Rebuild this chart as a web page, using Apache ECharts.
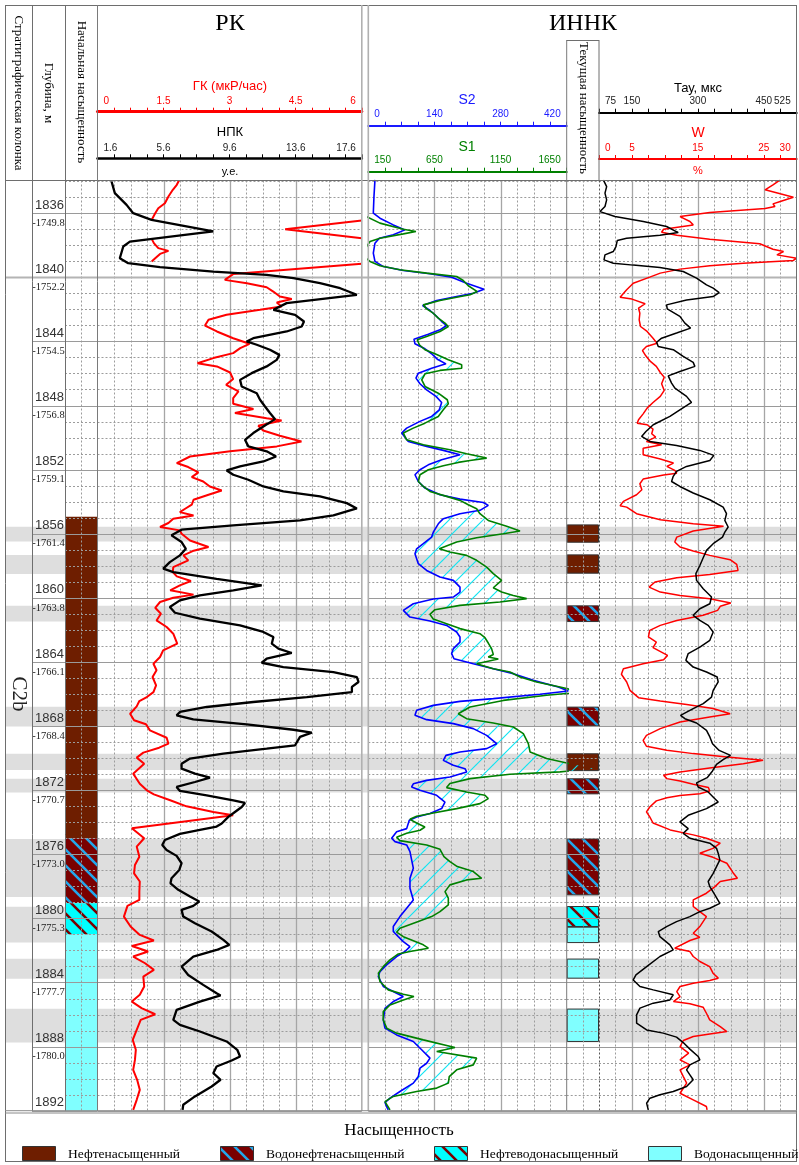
<!DOCTYPE html>
<html><head><meta charset="utf-8">
<script src="https://cdn.jsdelivr.net/npm/echarts@6/dist/echarts.min.js"></script>
<style>html,body{margin:0;padding:0;background:#fff}#c{width:799px;height:1165px}</style>
</head><body><div id="c"></div>
<script>
// ================= DATA =================
const depthRange = [1833.96, 1892];
const depthLabels = [1836,1840,1844,1848,1852,1856,1860,1864,1868,1872,1876,1880,1884,1888,1892];
const absDepthLabels = ['-1749.8','-1752.2','-1754.5','-1756.8','-1759.1','-1761.4','-1763.8','-1766.1','-1768.4','-1770.7','-1773.0','-1775.3','-1777.7','-1780.0'];
const stratUnits = [['C2b', 1840, 1892]];
const saturationTypes = ['Нефтенасыщенный','Водонефтенасыщенный','Нефтеводонасыщенный','Водонасыщенный'];
const initialSaturation = [[0,1854.94,1875.0],[1,1875.0,1879.05],[2,1879.05,1881.0],[3,1881.0,1892]];
const currentSaturation = [[0,1855.45,1856.53],[0,1857.32,1858.46],[1,1860.5,1861.48],[1,1866.82,1867.99],[0,1869.73,1870.78],[1,1871.29,1872.23],[1,1875.04,1878.53],[2,1879.26,1880.51],[3,1880.55,1881.51],[3,1882.54,1883.73],[3,1885.66,1887.68]];
const grayBands = [[1855.57,1856.49],[1857.32,1858.51],[1860.5,1861.48],[1866.8,1868.03],[1869.73,1870.74],[1871.29,1872.15],[1875.04,1878.66],[1879.28,1881.51],[1882.52,1883.77],[1885.64,1887.75]];

const gkScale = [0, 6, 1.5];      const gkTickLabels = ['0','1.5','3','4.5','6'];
const ngkScale = [1.6, 17.6, 4];  const ngkTickLabels = ['1.6','5.6','9.6','13.6','17.6'];
const s2Scale = [0, 420, 140];    const s2TickLabels = ['0','140','280','420'];
const s1Scale = [150, 1650, 500]; const s1TickLabels = ['150','650','1150','1650'];
const tauScale = [75, 525, 75];   const tauTickLabels = ['75','150','300','450','525'];
const wScale = [0, 30, 5];        const wTickLabels = ['0','5','15','25','30'];

// [depth, value]; null value = break in the curve
const gkLog = [[1833.96,1.85],[1834.23,1.8],[1834.54,1.71],[1834.96,1.61],[1835.38,1.53],[1835.69,1.38],[1836.0,1.31],[1836.31,1.25],[1836.42,1.23],[1836.44,null],
[1836.46,6.0],[1837.0,4.26],[1837.56,6.0],[1837.58,null],
[1837.6,1.23],[1837.87,1.28],[1838.18,1.38],[1838.35,1.61],[1838.54,1.42],[1838.81,1.31],[1839.01,1.23],[1839.1,null],
[1839.16,6.0],[1839.8,3.08],[1840.16,2.89],[1840.37,3.39],[1840.62,3.84],[1840.89,3.99],[1841.2,4.14],[1841.36,4.41],[1841.57,4.07],[1841.82,4.18],[1842.03,3.69],[1842.34,2.93],[1842.65,2.52],[1843.01,2.44],[1843.38,2.71],[1843.8,3.08],[1844.15,3.45],[1844.42,3.24],[1844.73,3.08],[1845.04,2.63],[1845.36,2.27],[1845.56,2.71],[1845.94,3.01],[1846.35,3.08],[1846.71,2.92],[1847.12,3.2],[1847.54,3.08],[1847.89,3.08],[1848.22,3.54],[1848.47,3.12],[1848.79,3.84],[1848.93,4.18],[1849.26,3.65],[1849.56,3.76],[1849.89,4.14],[1850.24,4.63],[1850.55,4.07],[1850.86,3.01],[1851.18,2.1],[1851.59,1.8],[1851.84,2.06],[1852.17,2.29],[1852.47,2.14],[1852.74,2.4],[1853.05,2.55],[1853.3,2.82],[1853.57,2.52],[1853.88,2.18],[1854.19,2.14],[1854.44,1.99],[1854.65,1.87],[1854.86,2.18],[1855.06,1.72],[1855.33,1.61],[1855.58,1.42],[1855.79,1.87],[1856.0,1.91],[1856.42,2.1],[1856.83,2.52],[1857.08,2.16],[1857.35,1.95],[1857.66,2.06],[1858.08,1.72],[1858.39,1.71],[1858.66,1.8],[1858.95,2.12],[1859.22,1.87],[1859.53,1.65],[1859.8,2.18],[1859.99,1.72],[1860.26,1.42],[1860.62,1.31],[1860.99,1.44],[1861.41,1.34],[1861.82,1.57],[1862.24,1.72],[1862.86,1.81],[1863.28,1.49],[1863.69,1.42],[1864.11,1.27],[1864.52,1.34],[1864.94,1.25],[1865.46,1.33],[1865.88,1.27],[1866.19,1.12],[1866.44,0.95],[1866.77,0.89],[1867.23,0.74],[1867.64,0.83],[1867.89,1.1],[1868.27,1.19],[1868.73,1.57],[1869.1,1.61],[1869.35,1.4],[1869.66,1.04],[1869.97,0.89],[1870.35,1.06],[1870.97,0.81],[1871.6,0.96],[1872.01,1.12],[1872.26,1.28],[1872.63,1.65],[1873.01,2.02],[1873.36,2.63],[1873.57,3.08],[1874.38,0.78],[1875.0,1.06],[1875.52,0.89],[1876.15,0.95],[1876.67,0.85],[1877.19,0.83],[1877.7,0.96],[1878.33,0.95],[1878.85,0.95],[1879.22,0.68],[1879.89,0.6],[1880.51,0.75],[1881.03,0.96],[1881.38,1.28],[1881.72,0.78],[1882.07,1.15],[1882.38,0.81],[1882.8,1.08],[1883.21,1.28],[1883.63,1.04],[1884.25,1.06],[1884.77,0.96],[1885.19,0.78],[1885.6,1.0],[1885.98,1.31],[1886.33,0.98],[1886.96,0.89],[1887.58,0.8],[1888.2,0.87],[1888.83,0.85],[1889.45,0.81],[1890.07,0.9],[1890.7,0.96],[1891.32,0.89],[1891.95,0.81]];

const ngkLog = [[1834.02,2.45],[1834.75,2.65],[1835.48,3.36],[1836.0,3.76],[1836.42,4.87],[1837.14,8.61],[1837.77,3.56],[1838.08,3.16],[1838.81,2.95],[1839.12,3.46],[1839.37,5.38],[1839.64,8.61],[1839.85,11.84],[1840.05,13.46],[1840.37,15.07],[1840.68,16.29],[1841.09,17.3],[1841.61,13.05],[1842.03,12.25],[1842.34,13.56],[1842.76,14.1],[1843.07,13.96],[1843.38,13.05],[1843.8,11.03],[1844.0,10.63],[1844.21,11.24],[1844.52,12.04],[1844.84,12.61],[1845.15,12.45],[1845.56,11.84],[1845.98,10.93],[1846.4,10.23],[1846.81,10.33],[1847.23,11.24],[1847.64,11.44],[1848.06,11.74],[1848.47,12.04],[1848.85,12.35],[1849.31,11.64],[1849.72,11.03],[1850.14,10.53],[1850.55,10.73],[1850.86,11.84],[1851.18,12.41],[1851.49,11.64],[1851.8,10.23],[1852.05,9.42],[1852.32,9.82],[1852.63,10.73],[1853.05,11.64],[1853.36,12.85],[1853.67,15.07],[1854.09,16.69],[1854.42,17.3],[1854.86,15.88],[1855.17,13.86],[1855.48,9.82],[1855.75,6.69],[1856.1,6.08],[1856.52,6.69],[1856.94,6.95],[1857.35,6.59],[1857.77,5.98],[1858.18,5.58],[1858.39,6.19],[1858.81,8.81],[1859.22,11.54],[1859.53,9.82],[1859.85,7.8],[1860.16,6.59],[1860.57,5.98],[1860.93,6.29],[1861.3,7.8],[1861.72,10.23],[1862.13,11.64],[1862.44,12.25],[1862.86,12.15],[1863.17,12.55],[1863.44,13.36],[1863.8,11.84],[1864.05,11.54],[1864.32,12.85],[1864.63,15.88],[1864.94,17.3],[1865.25,17.4],[1865.56,17.0],[1865.88,17.0],[1866.19,14.27],[1866.5,11.03],[1866.81,8.21],[1867.12,6.59],[1867.33,6.39],[1867.58,7.4],[1867.89,10.63],[1868.23,13.46],[1868.41,14.57],[1868.68,13.86],[1869.2,13.56],[1869.41,11.84],[1869.72,9.22],[1870.03,7.2],[1870.35,6.69],[1870.66,6.69],[1870.97,7.5],[1871.22,8.41],[1871.49,7.5],[1871.8,6.39],[1872.05,6.59],[1872.32,8.21],[1872.63,9.82],[1872.8,10.53],[1873.05,10.33],[1873.36,9.92],[1873.67,9.52],[1874.08,9.12],[1874.27,8.81],[1874.48,7.8],[1874.73,6.59],[1875.11,5.68],[1875.42,5.52],[1875.73,5.78],[1876.1,6.39],[1876.56,6.69],[1876.98,6.55],[1877.5,6.08],[1877.81,6.02],[1878.22,6.49],[1878.64,7.2],[1878.95,7.76],[1879.22,7.4],[1879.47,6.69],[1879.89,6.79],[1880.3,7.5],[1880.82,8.51],[1881.34,9.22],[1881.65,9.58],[1881.97,8.81],[1882.38,7.4],[1883.01,6.69],[1883.53,7.09],[1884.15,8.0],[1884.67,8.81],[1884.81,9.05],[1885.19,7.8],[1885.71,6.39],[1886.33,6.19],[1886.64,6.59],[1887.06,7.8],[1887.68,9.42],[1888.2,10.06],[1888.62,10.23],[1888.87,9.72],[1889.24,8.81],[1889.66,8.61],[1890.07,9.05],[1890.49,8.51],[1891.11,7.5],[1891.63,6.79],[1891.95,6.75]];

const s2Log = [[1833.92,14.1],[1834.96,12.0],[1836.0,10.6],[1836.31,24.7],[1836.73,52.9],[1837.04,77.6],[1837.35,52.9],[1837.56,23.3],[1837.87,14.1],[1838.49,10.6],[1839.01,14.1],[1839.33,31.8],[1839.58,74.1],[1839.78,130.6],[1839.99,176.4],[1840.37,208.2],[1840.74,244.9],[1840.99,222.3],[1841.2,187.0],[1841.45,144.7],[1841.76,115.0],[1842.07,130.6],[1842.4,143.3],[1842.76,155.3],[1843.01,165.8],[1843.28,151.7],[1843.55,127.0],[1843.86,96.7],[1844.15,98.8],[1844.46,120.0],[1844.77,134.1],[1845.11,146.1],[1845.4,164.4],[1845.67,134.1],[1845.98,105.9],[1846.29,100.9],[1846.64,109.4],[1847.02,123.5],[1847.43,143.3],[1847.81,155.3],[1848.27,150.3],[1848.68,134.1],[1848.99,109.4],[1849.41,81.2],[1849.72,70.6],[1850.24,84.7],[1850.55,123.5],[1850.8,158.8],[1851.07,194.1],[1851.39,155.3],[1851.7,127.0],[1852.01,109.4],[1852.32,98.8],[1852.74,105.9],[1853.15,120.0],[1853.57,151.7],[1853.84,194.1],[1854.05,243.5],[1854.23,254.0],[1854.54,236.4],[1854.75,194.1],[1855.06,158.8],[1855.38,148.2],[1855.9,137.6],[1856.21,134.1],[1856.62,116.4],[1856.94,102.3],[1857.25,98.8],[1857.87,105.9],[1858.29,123.5],[1858.7,151.7],[1858.91,180.0],[1859.33,194.1],[1859.64,194.1],[1859.95,180.0],[1860.07,137.6],[1860.37,95.3],[1860.78,74.1],[1861.2,88.2],[1861.45,130.6],[1861.72,165.8],[1862.13,187.0],[1862.44,194.1],[1862.76,194.1],[1863.17,180.0],[1863.48,176.4],[1863.8,181.4],[1864.11,222.3],[1864.42,264.6],[1864.73,307.0],[1865.15,349.3],[1865.56,402.2],[1865.81,423.4],[1866.02,363.4],[1866.29,264.6],[1866.46,194.1],[1866.71,137.6],[1867.02,102.3],[1867.33,98.8],[1867.6,123.5],[1867.85,180.0],[1868.16,222.3],[1868.58,250.5],[1869.1,271.7],[1869.41,250.5],[1869.62,194.1],[1869.83,164.4],[1870.14,158.8],[1870.45,180.0],[1870.66,204.7],[1870.86,208.2],[1871.18,172.9],[1871.39,123.5],[1871.6,95.3],[1871.8,91.7],[1872.01,109.4],[1872.32,144.7],[1872.74,162.3],[1873.15,155.3],[1873.46,130.6],[1873.67,102.3],[1873.88,86.8],[1874.4,81.2],[1874.59,60.0],[1875.0,49.4],[1875.21,56.5],[1875.42,81.2],[1875.83,88.2],[1876.35,91.7],[1876.87,95.3],[1877.5,88.2],[1878.12,88.2],[1878.85,95.3],[1879.37,81.2],[1879.89,67.0],[1880.51,52.9],[1880.82,52.9],[1881.14,63.5],[1881.45,74.1],[1881.76,88.2],[1882.07,77.6],[1882.38,60.0],[1882.9,38.8],[1883.32,24.7],[1883.63,21.2],[1884.25,31.8],[1884.67,60.0],[1884.88,74.1],[1885.19,52.9],[1885.61,35.3],[1886.33,31.8],[1886.85,35.3],[1887.27,60.0],[1887.68,95.3],[1888.2,112.9],[1888.72,130.6],[1889.04,123.5],[1889.35,109.4],[1889.87,105.9],[1890.28,95.3],[1890.8,67.0],[1891.22,45.9],[1891.49,35.3],[1891.74,38.8],[1891.95,42.3]];

const s1Log = [[1833.92,112],[1834.54,117],[1834.86,125],[1835.17,117],[1835.9,100],[1836.21,137],[1836.62,238],[1837.0,415],[1837.14,510],[1837.29,415],[1837.56,238],[1837.77,163],[1838.08,137],[1838.39,117],[1838.7,117],[1839.01,163],[1839.28,238],[1839.53,389],[1839.74,591],[1839.95,818],[1840.2,868],[1840.53,906],[1840.89,974],[1841.09,919],[1841.24,818],[1841.45,692],[1841.72,566],[1841.97,591],[1842.24,641],[1842.55,679],[1842.86,730],[1843.07,755],[1843.38,692],[1843.69,591],[1843.9,520],[1844.21,536],[1844.52,578],[1844.77,654],[1845.15,755],[1845.46,856],[1845.67,856],[1845.81,692],[1846.02,579],[1846.4,554],[1846.81,579],[1847.23,679],[1847.64,747],[1847.89,755],[1848.27,717],[1848.68,679],[1849.1,578],[1849.41,490],[1849.72,415],[1850.14,440],[1850.45,566],[1850.76,767],[1851.01,893],[1851.28,1045],[1851.43,919],[1851.55,830],[1851.76,717],[1852.01,604],[1852.32,541],[1852.74,528],[1853.05,566],[1853.36,616],[1853.67,742],[1853.92,843],[1854.19,906],[1854.44,969],[1854.75,994],[1855.17,1057],[1855.54,1196],[1855.83,1297],[1856.0,1171],[1856.25,969],[1856.52,818],[1856.94,687],[1857.14,767],[1857.35,893],[1857.66,969],[1858.08,1045],[1858.49,1095],[1858.91,1158],[1859.37,1095],[1859.64,1158],[1859.85,1246],[1860.05,1347],[1860.26,1145],[1860.47,843],[1860.74,654],[1861.03,616],[1861.32,641],[1861.61,742],[1861.92,843],[1862.24,994],[1862.49,1032],[1862.82,1057],[1863.17,1082],[1863.53,1095],[1863.69,1057],[1863.82,1133],[1864.11,969],[1864.42,1095],[1864.63,1221],[1864.94,1297],[1865.25,1423],[1865.56,1599],[1865.88,1763],[1866.08,1498],[1866.4,1171],[1866.81,919],[1867.23,830],[1867.54,893],[1867.81,1095],[1868.06,1246],[1868.47,1322],[1869.1,1360],[1869.62,1373],[1870.03,1498],[1870.35,1675],[1870.66,1864],[1870.86,1599],[1871.01,1221],[1871.28,919],[1871.59,767],[1871.84,742],[1872.11,893],[1872.32,1032],[1872.53,1057],[1872.84,994],[1873.15,818],[1873.42,641],[1873.63,515],[1873.82,465],[1874.05,515],[1874.3,578],[1874.5,541],[1874.69,440],[1874.94,364],[1875.15,389],[1875.42,591],[1875.69,692],[1876.15,722],[1876.46,767],[1876.77,823],[1877.08,944],[1877.5,1007],[1877.6,893],[1877.91,767],[1878.33,730],[1878.74,755],[1879.16,755],[1879.58,692],[1879.89,629],[1880.2,528],[1880.62,389],[1880.86,364],[1881.14,415],[1881.65,566],[1881.86,604],[1882.07,465],[1882.22,377],[1882.59,314],[1883.01,263],[1883.42,226],[1883.94,238],[1884.46,301],[1884.73,415],[1884.88,495],[1885.09,415],[1885.4,314],[1885.82,263],[1886.33,263],[1886.85,289],[1887.16,364],[1887.58,566],[1888.06,805],[1888.31,667],[1888.72,969],[1889.14,944],[1889.45,818],[1889.87,762],[1890.28,755],[1890.59,667],[1890.8,515],[1891.11,339],[1891.43,276],[1891.95,314]];

const tauLog = [[1833.92,84.9],[1834.34,92.4],[1834.75,88.6],[1835.17,92.4],[1835.58,88.6],[1835.9,77.3],[1836.0,81.1],[1836.21,111.4],[1836.52,175.8],[1836.83,228.8],[1837.21,255.3],[1837.37,213.7],[1837.56,137.9],[1837.7,116.7],[1838.08,113.6],[1838.39,107.6],[1838.6,88.6],[1838.91,86.4],[1839.12,107.6],[1839.24,153.0],[1839.39,213.7],[1839.64,266.7],[1840.05,297.0],[1840.47,319.7],[1840.68,334.9],[1840.95,348.5],[1841.2,334.9],[1841.41,274.3],[1841.72,228.8],[1841.97,230.3],[1842.44,259.1],[1842.86,270.5],[1843.17,283.4],[1843.48,251.5],[1843.8,217.5],[1844.05,206.1],[1844.32,209.9],[1844.52,244.0],[1844.94,266.7],[1845.31,289.4],[1845.56,293.2],[1845.88,259.1],[1846.15,232.6],[1846.6,240.2],[1846.92,247.8],[1847.43,274.3],[1847.81,285.6],[1848.27,259.1],[1848.68,236.4],[1849.2,198.5],[1849.62,181.8],[1849.93,172.0],[1850.24,190.9],[1850.49,251.5],[1850.8,304.6],[1851.11,336.4],[1851.43,327.3],[1851.8,274.3],[1852.11,251.5],[1852.42,244.0],[1852.74,240.2],[1853.05,259.1],[1853.46,289.4],[1853.88,327.3],[1854.34,357.6],[1854.75,365.2],[1855.17,361.4],[1855.58,369.0],[1855.9,361.4],[1856.21,356.1],[1856.62,334.9],[1857.04,319.7],[1857.5,312.2],[1857.98,304.6],[1858.49,295.5],[1858.91,297.0],[1859.43,312.2],[1859.95,331.1],[1860.37,327.3],[1860.68,304.6],[1861.09,289.4],[1861.41,304.6],[1861.72,323.5],[1862.13,334.9],[1862.65,327.3],[1863.07,304.6],[1863.48,278.1],[1863.9,272.8],[1864.32,289.4],[1864.63,319.7],[1864.94,344.0],[1865.25,346.3],[1865.77,334.9],[1866.19,331.1],[1866.6,312.2],[1866.91,289.4],[1867.33,260.6],[1867.54,270.5],[1867.81,297.0],[1868.27,319.7],[1868.68,327.3],[1869.1,333.4],[1869.52,348.5],[1869.83,374.3],[1870.1,357.6],[1870.39,342.5],[1870.8,333.4],[1871.22,321.2],[1871.55,297.0],[1871.8,300.8],[1872.11,323.5],[1872.47,336.4],[1872.74,346.3],[1873.15,319.7],[1873.57,278.1],[1873.98,259.1],[1874.4,278.1],[1874.69,266.7],[1875.0,281.9],[1875.31,327.3],[1875.63,342.5],[1875.94,346.3],[1876.35,350.1],[1876.77,342.5],[1877.19,334.9],[1877.7,323.5],[1878.02,327.3],[1878.43,336.4],[1879.06,350.1],[1879.37,327.3],[1879.58,304.6],[1879.89,281.9],[1880.2,251.5],[1880.51,228.8],[1880.82,209.9],[1881.14,213.7],[1881.65,236.4],[1881.97,244.0],[1882.38,213.7],[1883.01,183.4],[1883.53,159.1],[1883.84,153.0],[1884.25,168.2],[1884.46,198.5],[1884.77,244.0],[1885.09,236.4],[1885.29,198.5],[1885.6,168.2],[1886.02,160.6],[1886.54,160.6],[1886.96,183.4],[1887.16,221.2],[1887.41,251.5],[1887.75,266.7],[1888.16,281.9],[1888.62,300.8],[1888.83,304.6],[1889.14,281.9],[1889.45,274.3],[1889.76,281.9],[1890.07,289.4],[1890.49,274.3],[1890.8,244.0],[1891.01,213.7],[1891.22,190.9],[1891.53,183.4],[1891.95,187.1]];

const wLog = [[1833.92,27.5],[1834.23,26.4],[1834.54,25.2],[1834.79,27.5],[1835.0,29.5],[1835.27,27.5],[1835.42,26.4],[1835.58,26.7],[1835.71,25.2],[1835.96,16.8],[1836.21,12.3],[1836.52,13.8],[1836.73,14.3],[1837.0,9.8],[1837.19,9.5],[1837.37,11.8],[1837.62,16.8],[1837.91,24.4],[1838.25,26.4],[1838.39,28.0],[1838.6,27.0],[1838.81,30.0],[1838.95,29.5],[1839.12,21.9],[1839.28,16.8],[1839.49,12.3],[1839.74,9.3],[1839.99,7.7],[1840.37,5.2],[1840.78,4.2],[1841.24,3.2],[1841.36,5.0],[1841.65,7.0],[1841.93,6.0],[1842.24,6.2],[1842.65,6.1],[1843.07,6.3],[1843.38,7.3],[1843.8,8.2],[1844.11,8.8],[1844.32,7.2],[1844.57,6.6],[1844.9,7.1],[1845.25,7.8],[1845.56,8.7],[1845.94,9.3],[1846.23,9.9],[1846.64,9.5],[1847.06,9.9],[1847.43,9.3],[1847.81,8.2],[1848.16,7.3],[1848.52,6.7],[1848.89,6.0],[1849.1,5.8],[1849.2,7.3],[1849.47,8.2],[1849.76,8.0],[1849.97,8.6],[1850.24,7.2],[1850.45,9.5],[1850.66,6.7],[1851.07,6.7],[1851.34,9.3],[1851.59,11.3],[1851.8,10.3],[1852.05,11.5],[1852.22,11.8],[1852.34,9.8],[1852.59,6.7],[1852.88,6.2],[1853.26,6.5],[1853.57,5.7],[1853.98,3.7],[1854.25,3.2],[1854.34,4.2],[1854.75,5.7],[1855.13,9.3],[1855.38,14.3],[1855.54,18.9],[1855.83,14.3],[1856.21,11.8],[1856.52,11.5],[1856.83,12.3],[1857.08,14.3],[1857.35,16.8],[1857.62,19.9],[1857.91,20.9],[1858.29,21.1],[1858.54,16.8],[1858.75,11.8],[1859.01,8.5],[1859.33,7.6],[1859.64,9.3],[1859.85,12.3],[1860.05,16.8],[1860.32,20.0],[1860.53,18.4],[1860.78,18.0],[1861.09,15.8],[1861.41,11.8],[1861.72,9.3],[1862.03,7.7],[1862.44,7.5],[1862.76,8.7],[1863.11,8.2],[1863.59,10.4],[1863.86,9.8],[1864.11,6.7],[1864.42,3.7],[1864.77,3.4],[1865.25,4.2],[1865.77,4.7],[1866.23,6.0],[1866.44,9.3],[1866.65,13.3],[1866.91,17.3],[1867.23,19.9],[1867.43,16.8],[1867.75,12.3],[1868.16,9.3],[1868.58,7.2],[1868.89,6.7],[1869.26,7.2],[1869.51,10.3],[1869.72,14.3],[1869.93,19.4],[1870.14,24.9],[1870.35,21.9],[1870.62,16.8],[1870.86,12.3],[1871.07,9.8],[1871.28,10.3],[1871.43,12.3],[1871.63,14.3],[1871.84,16.6],[1872.05,16.8],[1872.22,15.3],[1872.34,12.3],[1872.47,10.3],[1872.67,8.7],[1873.05,7.7],[1873.36,7.2],[1873.67,7.7],[1874.05,8.2],[1874.48,10.8],[1874.79,14.3],[1875.0,16.3],[1875.31,18.4],[1875.63,17.3],[1875.94,15.3],[1876.19,17.3],[1876.56,19.4],[1876.87,19.9],[1877.19,20.4],[1877.5,21.0],[1877.7,18.4],[1878.02,17.6],[1878.43,16.3],[1878.85,14.3],[1879.26,14.3],[1879.58,15.3],[1879.89,16.3],[1880.2,15.8],[1880.51,15.3],[1880.93,14.3],[1881.18,15.3],[1881.38,13.8],[1881.86,11.5],[1882.07,13.8],[1882.38,14.3],[1882.69,15.3],[1883.01,16.8],[1883.42,17.3],[1883.73,18.1],[1883.88,16.8],[1884.05,14.3],[1884.25,12.3],[1884.57,11.8],[1884.88,12.3],[1885.19,11.3],[1885.33,13.8],[1885.54,15.8],[1885.92,16.3],[1886.33,16.8],[1886.75,18.4],[1887.06,19.4],[1887.21,16.8],[1887.37,14.3],[1887.62,12.8],[1888.0,12.3],[1888.41,13.6],[1888.83,12.3],[1889.14,13.8],[1889.45,12.3],[1889.87,12.8],[1890.28,13.3],[1890.91,12.3],[1891.32,14.3],[1891.74,16.3],[1891.95,16.4]];

// ================= LAYOUT =================
const PT = 180.5, PH = 930.2;
const SANS = '"Liberation Sans", Arial, sans-serif';
const SERIF = '"Liberation Serif", "Times New Roman", serif';
const hatchFromDepth = 1844.5;

function stripe(bg, fg, size, w, dir) {
  const c = document.createElement('canvas'); c.width = c.height = size;
  const g = c.getContext('2d');
  if (bg) { g.fillStyle = bg; g.fillRect(0, 0, size, size); }
  g.strokeStyle = fg; g.lineWidth = w; g.lineCap = 'square'; g.beginPath();
  for (const k of [-1, 0, 1]) {
    if (dir === '\\') { g.moveTo(k * size, 0); g.lineTo(k * size + size, size); }
    else { g.moveTo(k * size, size); g.lineTo(k * size + size, 0); }
  }
  g.stroke();
  return { image: c, repeat: 'repeat' };
}
const satFills = ['#6e1e00', stripe('#7a0000', '#22a6ea', 16, 2.6, '\\'), stripe('#00ffff', '#7a0000', 16, 2.6, '\\'), '#80ffff'];
const hatchFill = stripe(null, '#10e4f2', 17, 1.15, '/');

const chart = echarts.init(document.getElementById('c'), null, { renderer: 'canvas', width: 799, height: 1165 });

const plotGrids = [
  { left: 97.5, width: 264.3 },  // 0 RK
  { left: 368.3, width: 198.4 }, // 1 S
  { left: 599, width: 197.7 },   // 2 Tau/W
  { left: 5, width: 792 },       // 3 full width
  { left: 32, width: 33 },       // 4 depth col
  { left: 65, width: 32.5 },     // 5 initial saturation
  { left: 566.7, width: 32.3 }   // 6 current saturation
];
const headerGrids = [
  { left: 97.5, width: 264.3, top: 111.7 },  // 7 GK
  { left: 97.5, width: 264.3, top: 158.3 },  // 8 NGK
  { left: 368.3, width: 198.4, top: 125.7 }, // 9 S2
  { left: 368.3, width: 198.4, top: 171.7 }, // 10 S1
  { left: 599, width: 197.7, top: 112.7 },   // 11 Tau
  { left: 599, width: 197.7, top: 159 }      // 12 W
];
const grids = plotGrids.map(g => ({ left: g.left, width: g.width, top: PT, height: PH, outerBoundsMode: 'none', containLabel: false }))
  .concat(headerGrids.map(g => ({ left: g.left, width: g.width, top: g.top, height: 1, outerBoundsMode: 'none', containLabel: false })));

const hid = (gi, s) => ({ gridIndex: gi, type: 'value', min: s[0], max: s[1], show: false });
const xAxes = [hid(0, gkScale), hid(0, ngkScale), hid(1, s2Scale), hid(1, s1Scale), hid(2, tauScale), hid(2, wScale),
  hid(3, [0, 1]), hid(4, [0, 1]), hid(5, [0, 1]), hid(6, [0, 1])];
function headerAxis(gi, scale, labels, color, lw, minorSplit, margin, labelColor) {
  return { gridIndex: gi, type: 'value', position: 'top', min: scale[0], max: scale[1], interval: scale[2],
    axisLine: { show: true, onZero: false, lineStyle: { color, width: lw } },
    axisTick: { show: true, length: 4, lineStyle: { color, width: 1 } },
    minorTick: { show: true, splitNumber: minorSplit, length: 4, lineStyle: { color, width: 1 } },
    splitLine: { show: false }, minorSplitLine: { show: false },
    axisLabel: { show: true, color: labelColor || color, fontSize: 10, fontFamily: SANS, margin, showMinLabel: true, showMaxLabel: true,
      alignMinLabel: 'left', alignMaxLabel: 'right', padding: [0, 6, 0, 6],
      formatter: v => { const t = labels.find(l => Math.abs(+l - v) < 1e-6 * Math.max(1, Math.abs(v))); return t === undefined ? '' : t; } } };
}
xAxes.push(headerAxis(7, gkScale, gkTickLabels, '#ff0000', 3, 4, 5));
xAxes.push(headerAxis(8, ngkScale, ngkTickLabels, '#000000', 2.5, 4, 5, '#222'));
xAxes.push(headerAxis(9, s2Scale, s2TickLabels, '#1a1aff', 2, 4, 6));
xAxes.push(headerAxis(10, s1Scale, s1TickLabels, '#008000', 2, 4, 6));
xAxes.push(headerAxis(11, tauScale, tauTickLabels, '#000000', 2, 2, 6, '#222'));
xAxes.push(headerAxis(12, wScale, wTickLabels, '#ff0000', 2, 2, 6));

const yAxes = [];
for (let i = 0; i < 7; i++) yAxes.push({ gridIndex: i, type: 'value', inverse: true, min: depthRange[0], max: depthRange[1], show: false });
for (let i = 7; i < 13; i++) yAxes.push({ gridIndex: i, type: 'value', min: 0, max: 1, show: false });

// ---- renderers ----
const DOT = { stroke: '#9c9c9c', lineWidth: 1, lineDash: [2, 2] };
const SOLID = { stroke: '#a6a6a6', lineWidth: 1.3 };
function gridLines(cfg) {
  return function (params, api) {
    const cs = params.coordSys, kids = [];
    const vline = (v, st) => { const x = Math.round(api.coord([v, cfg.yRef])[0]) + 0.5; kids.push({ type: 'line', shape: { x1: x, y1: cs.y, x2: x, y2: cs.y + cs.height }, style: st }); };
    const hline = (d, st) => { const y = Math.round(api.coord([cfg.xRef, d])[1]) + 0.5; kids.push({ type: 'line', shape: { x1: cs.x, y1: y, x2: cs.x + cs.width, y2: y }, style: st }); };
    (cfg.xMinor || []).forEach(v => vline(v, DOT));
    (cfg.xMajor || []).forEach(v => vline(v, SOLID));
    if (cfg.rightEdge) vline(cfg.rightEdge, { stroke: '#555', lineWidth: 1, lineDash: [2, 2] });
    for (let d = Math.ceil(depthRange[0]); d <= depthRange[1]; d++) {
      const major = depthLabels.indexOf(d) >= 0;
      if (major && cfg.hMajor) hline(d, { stroke: '#9a9a9a', lineWidth: 1 });
      else if (!major && cfg.hMinor) hline(d, DOT);
    }
    return { type: 'group', children: kids };
  };
}
function steps(scale, n, skip) { const out = []; const st = (scale[1] - scale[0]) / n; for (let k = 1; k < n; k++) if (!skip || k % skip) out.push(scale[0] + k * st); return out; }
function majors(scale, n, every) { const out = []; const st = (scale[1] - scale[0]) / n; for (let k = every; k < n; k += every) out.push(scale[0] + k * st); return out; }
const tauMajors = tauTickLabels.slice(1, -1).map(Number);
const tauMinor = steps(tauScale, 12).filter(v => tauMajors.indexOf(v) < 0);

function bandRender(params, api) {
  const cs = params.coordSys; const b = grayBands[params.dataIndex];
  const y1 = api.coord([0.5, b[0]])[1], y2 = api.coord([0.5, b[1]])[1];
  return { type: 'rect', shape: { x: cs.x, y: y1, width: cs.width, height: y2 - y1 }, style: { fill: '#dedede' } };
}
function blockRender(list, bordered) {
  return function (params, api) {
    const cs = params.coordSys; const b = list[params.dataIndex];
    const y1 = api.coord([0.5, b[1]])[1], y2 = api.coord([0.5, b[2]])[1];
    return { type: 'rect', shape: { x: cs.x + (bordered ? 0.5 : 0), y: y1, width: cs.width - (bordered ? 1 : 0), height: y2 - y1 },
      style: { fill: satFills[b[0]], stroke: bordered ? '#333' : null, lineWidth: 1 } };
  };
}
function stratRender(params, api) {
  const cs = params.coordSys; const u = stratUnits[params.dataIndex];
  const yT = api.coord([0.5, u[1]])[1], yB = api.coord([0.5, u[2]])[1];
  const yl = Math.round(yT) + 0.5;
  return { type: 'group', children: [
    { type: 'line', shape: { x1: cs.x, y1: yl, x2: cs.x + cs.width, y2: yl }, style: { stroke: '#b4b4b4', lineWidth: 2 } },
    { type: 'text', x: 18.5, y: (yT + yB) / 2, rotation: -Math.PI / 2,
      style: { text: u[0], fill: '#222', font: '21px ' + SERIF, align: 'center', verticalAlign: 'middle' } }
  ] };
}
function depthLabelRender(params, api) {
  const cs = params.coordSys; const i = params.dataIndex; const d = depthLabels[i];
  const y = api.coord([0.5, d])[1]; const cx = cs.x + cs.width / 2;
  const kids = [{ type: 'text', x: cx + 1, y: y - 8, style: { text: String(d), fill: '#333', font: '13px ' + SANS, align: 'center', verticalAlign: 'middle' } }];
  if (absDepthLabels[i]) kids.push({ type: 'text', x: cx, y: y + 10, style: { text: absDepthLabels[i], fill: '#222', font: '10.5px ' + SERIF, align: 'center', verticalAlign: 'middle' } });
  return { type: 'group', children: kids };
}
function hatchRender(params, api) {
  const s2toS1 = v => s1Scale[0] + (v - s2Scale[0]) * (s1Scale[1] - s1Scale[0]) / (s2Scale[1] - s2Scale[0]);
  const g = s1Log.map(p => api.coord([p[1], p[0]]));
  const b = s2Log.map(p => api.coord([s2toS1(p[1]), p[0]]));
  const at = (pts, y) => {
    if (y <= pts[0][1]) return pts[0][0];
    for (let i = 1; i < pts.length; i++) if (pts[i][1] >= y) { const a = pts[i - 1], c = pts[i]; const t = c[1] === a[1] ? 0 : (y - a[1]) / (c[1] - a[1]); return a[0] + t * (c[0] - a[0]); }
    return pts[pts.length - 1][0];
  };
  const y0 = api.coord([s1Scale[0], hatchFromDepth])[1];
  const y1 = Math.min(g[g.length - 1][1], b[b.length - 1][1]);
  const polys = []; let cur = null;
  for (let y = y0; y <= y1; y += 1) {
    const xg = at(g, y), xb = at(b, y);
    if (xg > xb + 0.5) { if (!cur) cur = { L: [], R: [] }; cur.R.push([xg, y]); cur.L.push([xb, y]); }
    else if (cur) { polys.push(cur); cur = null; }
  }
  if (cur) polys.push(cur);
  return { type: 'group', children: polys.map(p => ({ type: 'polygon', shape: { points: p.R.concat(p.L.reverse()) }, style: { fill: hatchFill, stroke: null, opacity: 1 } })) };
}

const series = [];
const custom = (xi, yi, data, renderItem, z) => ({ type: 'custom', xAxisIndex: xi, yAxisIndex: yi, data, renderItem, z, silent: true, animation: false, clip: false, encode: { x: 0, y: 1 } });
series.push(custom(6, 3, grayBands.map(b => [0.5, b[0]]), bandRender, 1));
series.push(custom(8, 5, initialSaturation.map(b => [0.5, b[1]]), blockRender(initialSaturation, false), 2));
series.push(custom(9, 6, currentSaturation.map(b => [0.5, b[1]]), blockRender(currentSaturation, true), 2));
series.push(custom(0, 0, [[1, 1850]], gridLines({ yRef: 1850, xRef: 1, xMinor: steps(gkScale, 16, 4), xMajor: majors(gkScale, 16, 4), hMinor: true, hMajor: true }), 3));
series.push(custom(3, 1, [[600, 1850]], gridLines({ yRef: 1850, xRef: 600, xMinor: steps(s1Scale, 12, 4), xMajor: majors(s1Scale, 12, 4), hMinor: true, hMajor: true }), 3));
series.push(custom(4, 2, [[200, 1850]], gridLines({ yRef: 1850, xRef: 200, xMinor: tauMinor, xMajor: tauMajors, hMinor: true, hMajor: true }), 3));
series.push(custom(7, 4, [[0.5, 1850]], gridLines({ yRef: 1850, xRef: 0.5, hMinor: false, hMajor: true }), 3));
series.push(custom(8, 5, [[0.5, 1850]], gridLines({ yRef: 1850, xRef: 0.5, xMinor: [0.5], hMinor: true, hMajor: true }), 3));
series.push(custom(9, 6, [[0.5, 1850]], gridLines({ yRef: 1850, xRef: 0.5, xMinor: [0.5], hMinor: true, hMajor: true, rightEdge: 1 }), 3));
series.push(custom(6, 3, stratUnits.map(u => [0.5, u[1]]), stratRender, 4));
series.push(custom(3, 1, [[600, 1850]], hatchRender, 4));
series.push(custom(7, 4, depthLabels.map(d => [0.5, d]), depthLabelRender, 6));

const line = (data, xi, yi, color, width, clip) => ({ type: 'line', xAxisIndex: xi, yAxisIndex: yi,
  data: data.map(p => [p[1] == null ? '-' : p[1], p[0]]), symbol: 'none', showSymbol: false, connectNulls: false,
  lineStyle: { color, width }, itemStyle: { color }, clip: clip !== false, z: 5, silent: true, animation: false });
series.push(line(gkLog, 0, 0, '#ff0000', 2));
series.push(line(ngkLog, 1, 0, '#000000', 2.3));
series.push(line(s2Log, 2, 1, '#0000ff', 1.6, false));
series.push(line(s1Log, 3, 1, '#008000', 1.6, false));
series.push(line(wLog, 5, 2, '#ff0000', 1.5));
series.push(line(tauLog, 4, 2, '#000000', 1.5));

// ---- static layout: frame, header titles, legend ----
const G = [];
const L = (x1, y1, x2, y2, c, w) => G.push({ type: 'line', z: 100, silent: true, shape: { x1, y1, x2, y2 }, style: { stroke: c || '#6e6e6e', lineWidth: w || 1 } });
const T = (x, y, text, size, color, font, rot, align) => G.push({ type: 'text', z: 101, silent: true, x, y, rotation: rot || 0,
  style: { text, fill: color || '#000', font: size + 'px ' + (font || SERIF), align: align || 'center', verticalAlign: 'middle', textAlign: align || 'center', textVerticalAlign: 'middle' } });
L(5, 5.5, 797, 5.5); L(5.5, 5, 5.5, 1162); L(796.5, 5, 796.5, 1162); L(5, 1161.5, 797, 1161.5);
L(5, 180.5, 797, 180.5);
L(32.5, 5, 32.5, 1111); L(65.5, 5, 65.5, 1111); L(97.5, 5, 97.5, 1111, '#7a7a7a');
L(361.8, 5, 361.8, 1111, '#b0b0b0', 1.6); L(368.3, 5, 368.3, 1111, '#b0b0b0', 1.6);
L(566.7, 40, 566.7, 1111, '#7a7a7a'); L(599, 40, 599, 181, '#6e6e6e'); L(566.7, 40.5, 599, 40.5);
L(5, 1110.7, 797, 1110.7, '#8a8a8a'); L(5, 1113, 797, 1113, '#8a8a8a');
T(18.5, 93, 'Стратиграфическая колонка', 13, '#000', SERIF, -Math.PI / 2);
T(48.5, 93, 'Глубина, м', 13, '#000', SERIF, -Math.PI / 2);
T(81, 92, 'Начальная насыщенность', 13, '#000', SERIF, -Math.PI / 2);
T(583, 108, 'Текущая насыщенность', 13, '#000', SERIF, -Math.PI / 2);
T(230, 24, 'РК', 24); T(583, 24, 'ИННК', 24);
T(230, 86, 'ГК (мкР/час)', 13, '#ff0000', SANS);
T(230, 132, 'НПК', 13, '#000', SANS);
T(230, 172, 'у.е.', 11, '#000', SANS);
T(467, 100, 'S2', 14, '#1a1aff', SANS);
T(467, 147, 'S1', 14, '#008000', SANS);
T(698, 88, 'Тау, мкс', 13, '#000', SANS);
T(698, 133, 'W', 14, '#ff0000', SANS);
T(698, 171, '%', 11, '#ff0000', SANS);
// legend
T(399, 1131, 'Насыщенность', 17);
const legendX = [22, 220, 434, 648];
saturationTypes.forEach((name, i) => {
  G.push({ type: 'rect', z: 100, silent: true, shape: { x: legendX[i] + 0.5, y: 1146.5, width: 33, height: 14 }, style: { fill: satFills[i], stroke: '#333', lineWidth: 1 } });
  T(legendX[i] + 46, 1154, name, 13.5, '#000', SERIF, 0, 'left');
});

chart.setOption({ animation: false, backgroundColor: '#fff', grid: grids, xAxis: xAxes, yAxis: yAxes, series, graphic: { elements: G } });
</script></body></html>
